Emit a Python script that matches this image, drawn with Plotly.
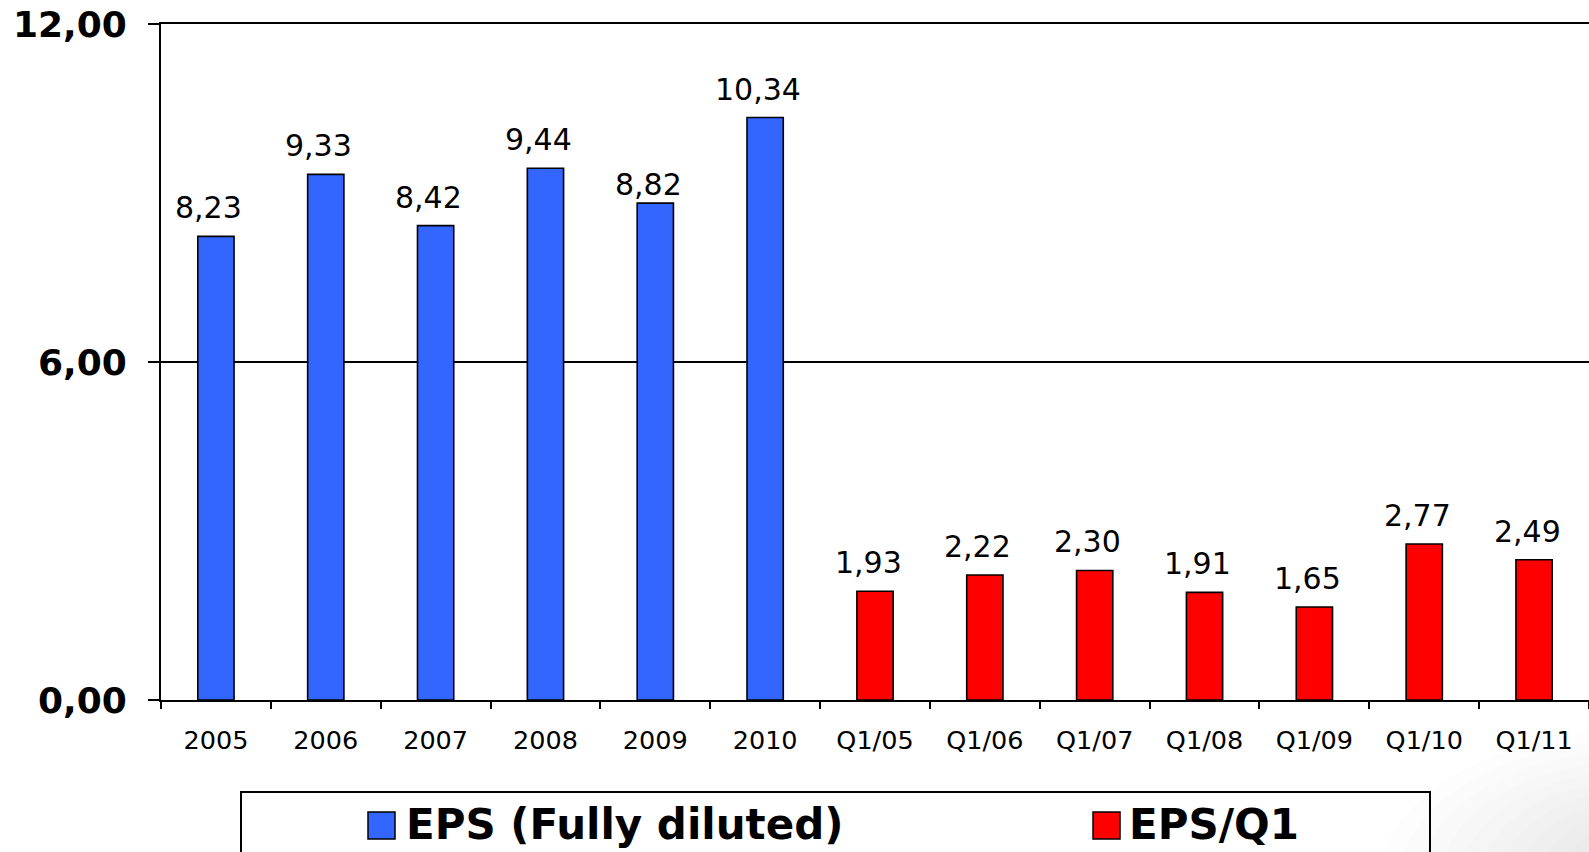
import plotly.graph_objects as go

# EPS values
annual_labels = ["2005", "2006", "2007", "2008", "2009", "2010"]
annual_eps = [8.23, 9.33, 8.42, 9.44, 8.82, 10.34]
q1_labels = ["Q1/05", "Q1/06", "Q1/07", "Q1/08", "Q1/09", "Q1/10", "Q1/11"]
q1_eps = [1.93, 2.22, 2.30, 1.91, 1.65, 2.77, 2.49]
annual_name = "EPS (Fully diluted)"
q1_name = "EPS/Q1"
y_ticks = [0, 6, 12]

BLUE = "#3366FF"
RED = "#FF0000"
FONT = "DejaVu Sans"

# extra vertical offset (px) for individual value labels
label_nudge = {"2009": -10}

W, H = 1589, 852
L, R, T, B = 161, 0, 24, 152
PW, PH = W - L - R, H - T - B


def px_x(x):
    return (x - L) / PW


def px_y(y):
    return (H - B - y) / PH


categories = annual_labels + q1_labels

fig = go.Figure()
for cats, vals, col, name in [(annual_labels, annual_eps, BLUE, annual_name),
                              (q1_labels, q1_eps, RED, q1_name)]:
    fig.add_trace(go.Bar(
        x=cats, y=vals, name=name, width=0.33,
        marker=dict(color=col, line=dict(color="black", width=1.6)),
        showlegend=False,
    ))

# value labels above each bar (positioned by category index)
annotations = []
for cats, vals in [(annual_labels, annual_eps), (q1_labels, q1_eps)]:
    for c, v in zip(cats, vals):
        annotations.append(dict(
            x=categories.index(c), y=v, xref="x", yref="y",
            text=f"{v:.2f}".replace(".", ","),
            showarrow=False, yanchor="bottom",
            yshift=9 + label_nudge.get(c, 0), xshift=-7,
            font=dict(family=FONT, size=30, color="black"),
        ))

# legend box drawn by hand
shapes = [
    dict(type="rect", xref="paper", yref="paper",
         x0=px_x(241), x1=px_x(1430), y0=px_y(870), y1=px_y(792),
         line=dict(color="black", width=2), fillcolor="rgba(255,255,255,0)", layer="above"),
]
for (sx, col, name, tx) in [(368, BLUE, annual_name, 404), (1093, RED, q1_name, 1127)]:
    shapes.append(dict(type="rect", xref="paper", yref="paper",
                       x0=px_x(sx), x1=px_x(sx + 27), y0=px_y(839), y1=px_y(812),
                       line=dict(color="black", width=1.5), fillcolor=col, layer="above"))
    annotations.append(dict(
        x=px_x(tx), y=px_y(824), xref="paper", yref="paper", text=name,
        showarrow=False, xanchor="left", yanchor="middle",
        font=dict(family=FONT, size=42, color="black", weight="bold"),
    ))

# soft grey shading in the lower right corner
for k in range(10):
    rx = 260 - k * 20
    ry = 150 - k * 10
    shapes.append(dict(type="circle", xref="paper", yref="paper",
                       x0=px_x(1640 - rx), x1=px_x(1640 + rx),
                       y0=px_y(880 + ry), y1=px_y(880 - ry),
                       line=dict(width=0), fillcolor="rgba(110,110,110,0.012)", layer="below"))

fig.update_layout(
    width=W, height=H,
    margin=dict(l=L, r=R, t=T, b=B, pad=0),
    paper_bgcolor="white", plot_bgcolor="white",
    barmode="overlay", separators=",.",
    font=dict(family=FONT, color="black"),
    shapes=shapes, annotations=annotations,
    showlegend=False,
)
fig.update_xaxes(
    type="category", categoryorder="array", categoryarray=categories,
    range=[-0.5, len(categories) - 0.5],
    showline=True, mirror=True, linecolor="black", linewidth=2,
    ticks="outside", tickson="boundaries", ticklen=7, tickwidth=1.5, tickcolor="black",
    tickfont=dict(family=FONT, size=25.5, color="black"),
    ticklabelstandoff=16,
    showgrid=False, zeroline=False,
)
fig.update_yaxes(
    range=[0, 12], tickvals=y_ticks, tickformat=".2f",
    showline=True, linecolor="black", linewidth=2,
    ticks="outside", ticklen=11, tickwidth=1.5, tickcolor="black",
    tickfont=dict(family=FONT, size=36, color="black", weight="bold"),
    ticklabelstandoff=14,
    showgrid=True, gridcolor="black", gridwidth=2, zeroline=False,
)

fig.write_html("out.html")
